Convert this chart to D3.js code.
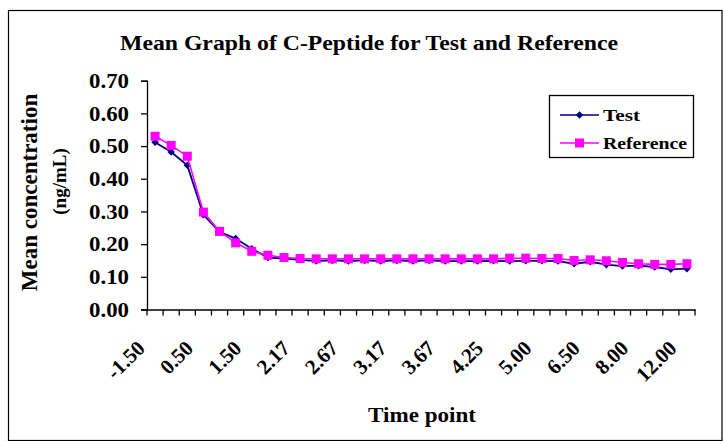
<!DOCTYPE html>
<html>
<head>
<meta charset="utf-8">
<script src="https://cdn.jsdelivr.net/npm/d3@7"></script>
<style>
  html, body { margin: 0; padding: 0; background: #fff; }
  svg { display: block; }
  text { font-family: "Liberation Serif", "Times New Roman", serif; font-weight: bold; fill: #000; }
</style>
</head>
<body>
<svg id="chart" width="724" height="441"></svg>
<script>
// ---------- data ----------
const timePoints = ["-1.50","-1.00","-0.50","0.50","0.83","1.17","1.50","1.83","2.00","2.17",
  "2.33","2.50","2.67","2.83","3.00","3.17","3.33","3.50","3.67","3.83",
  "4.00","4.25","4.50","4.75","5.00","5.50","6.00","6.50","7.00","7.50",
  "8.00","9.00","10.00","12.00"];
const testValues = [0.512,0.482,0.441,0.290,0.238,0.217,0.186,0.159,0.156,0.152,
  0.148,0.150,0.148,0.150,0.148,0.150,0.148,0.150,0.148,0.148,
  0.148,0.149,0.148,0.149,0.149,0.148,0.140,0.146,0.137,0.133,
  0.134,0.130,0.123,0.125];
const referenceValues = [0.530,0.502,0.469,0.298,0.239,0.204,0.178,0.166,0.159,0.156,
  0.155,0.155,0.155,0.155,0.155,0.155,0.155,0.155,0.155,0.155,
  0.155,0.155,0.157,0.157,0.156,0.156,0.150,0.152,0.149,0.144,
  0.140,0.138,0.138,0.140];
const yTicks = [0.0,0.1,0.2,0.3,0.4,0.5,0.6,0.7];
const xLabelStep = 3;
const seriesNames = ["Test","Reference"];

// ---------- layout ----------
const svg = d3.select("#chart");
function fitWidth(sel, w) {
  sel.attr("textLength", w).attr("lengthAdjust", "spacingAndGlyphs");
}

svg.append("rect").attr("x", 8.5).attr("y", 10.5).attr("width", 713.5).attr("height", 430)
  .attr("fill", "none").attr("stroke", "#000").attr("stroke-width", 1.2);

const plot = { left: 147, right: 695, top: 80.7, bottom: 309.5 };

const x = d3.scaleBand().domain(timePoints).range([plot.left, plot.right]).padding(0);
const y = d3.scaleLinear().domain([0, 0.7]).range([plot.bottom, plot.top]);
const cx = d => x(d) + x.bandwidth() / 2;

// title
const title = svg.append("text").attr("x", 369).attr("y", 50).attr("text-anchor", "middle")
  .style("font-size", "21px").text("Mean Graph of C-Peptide for Test and Reference");
fitWidth(title, 498);

// y axis
const yAxis = svg.append("g").attr("transform", `translate(${plot.left},0)`)
  .call(d3.axisLeft(y).tickValues(yTicks).tickFormat(d3.format(".2f")).tickSize(6).tickPadding(12));
yAxis.select(".domain").attr("stroke", "#000").attr("stroke-width", 1.3);
yAxis.selectAll(".tick line").attr("stroke", "#000").attr("stroke-width", 1.3);
yAxis.selectAll(".tick text").style("font-size", "20px").style("font-family", "Liberation Serif")
  .style("font-weight", "bold").attr("dy", "0.34em");
fitWidth(yAxis.selectAll(".tick text"), 40);

// x axis
const xAxis = svg.append("g").attr("transform", `translate(0,${plot.bottom})`)
  .call(d3.axisBottom(x).tickValues([]).tickSize(0));
xAxis.select(".domain").attr("stroke", "#000").attr("stroke-width", 1.3);
const boundaries = d3.range(timePoints.length + 1).map(i => plot.left + i * x.bandwidth());
svg.append("g").selectAll("line").data(boundaries).join("line")
  .attr("x1", d => d).attr("x2", d => d)
  .attr("y1", plot.bottom).attr("y2", plot.bottom + 6)
  .attr("stroke", "#000").attr("stroke-width", 1.3);

// x tick labels (every 3rd category, rotated)
svg.append("g").selectAll("text")
  .data(timePoints.filter((d, i) => i % xLabelStep === 0))
  .join("text")
  .attr("text-anchor", "end")
  .attr("transform", d => `translate(${cx(d) - 9},${plot.bottom + 40}) rotate(-45)`)
  .style("font-size", "21px")
  .text(d => d);

// axis titles
svg.append("text").attr("transform", "translate(37,192.5) rotate(-90)")
  .attr("text-anchor", "middle").style("font-size", "23px").text("Mean concentration");
svg.append("text").attr("transform", "translate(66,181.5) rotate(-90)")
  .attr("text-anchor", "middle").style("font-size", "19px").text("(ng/mL)");
const xt = svg.append("text").attr("x", 422).attr("y", 422).attr("text-anchor", "middle")
  .style("font-size", "20px").text("Time point");
fitWidth(xt, 108);

// series
const testColor = "#000080", refColor = "#FF00FF";
const line = d3.line().x((d, i) => cx(timePoints[i])).y(d => y(d));

svg.append("path").datum(testValues).attr("d", line)
  .attr("fill", "none").attr("stroke", testColor).attr("stroke-width", 1.8);
svg.append("g").selectAll("path").data(testValues).join("path")
  .attr("d", d3.symbol().type(d3.symbolSquare).size(28))
  .attr("transform", (d, i) => `translate(${cx(timePoints[i])},${y(d)}) rotate(45)`)
  .attr("fill", testColor);

svg.append("path").datum(referenceValues).attr("d", line)
  .attr("fill", "none").attr("stroke", refColor).attr("stroke-width", 1.6);
svg.append("g").selectAll("rect").data(referenceValues).join("rect")
  .attr("x", (d, i) => cx(timePoints[i]) - 4.5).attr("y", d => y(d) - 4.5)
  .attr("width", 9).attr("height", 9).attr("fill", refColor);

// legend
const lg = svg.append("g");
lg.append("rect").attr("x", 549.5).attr("y", 95.5).attr("width", 144).attr("height", 62)
  .attr("fill", "#fff").attr("stroke", "#000").attr("stroke-width", 1.3);
const legendRows = [
  { name: seriesNames[0], color: testColor, y: 115, shape: "diamond", w: 37 },
  { name: seriesNames[1], color: refColor, y: 143, shape: "square", w: 84 }
];
legendRows.forEach(r => {
  lg.append("line").attr("x1", 560).attr("x2", 599).attr("y1", r.y).attr("y2", r.y)
    .attr("stroke", r.color).attr("stroke-width", 1.6);
  if (r.shape === "diamond") {
    lg.append("path").attr("d", d3.symbol().type(d3.symbolSquare).size(28)())
      .attr("transform", `translate(579.5,${r.y}) rotate(45)`).attr("fill", r.color);
  } else {
    lg.append("rect").attr("x", 575).attr("y", r.y - 4.5).attr("width", 9).attr("height", 9).attr("fill", r.color);
  }
  const t = lg.append("text").attr("x", 603).attr("y", r.y + 6).style("font-size", "17px").text(r.name);
  fitWidth(t, r.w);
});
</script>
</body>
</html>
